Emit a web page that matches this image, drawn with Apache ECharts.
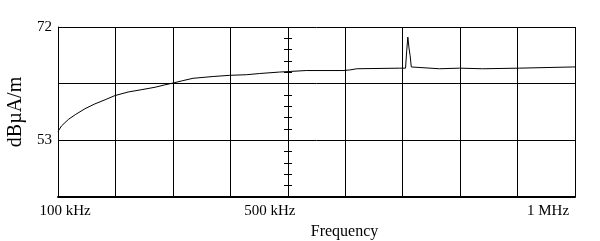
<!DOCTYPE html>
<html>
<head>
<meta charset="utf-8">
<script src="https://cdn.jsdelivr.net/npm/echarts@6/dist/echarts.min.js"></script>
<style>
html,body{margin:0;padding:0;background:#fff;}
#c{width:600px;height:241px;}
</style>
</head>
<body>
<div id="c"></div>
<script>
// Frequency in kHz
const freqKHz = [100, 106, 118, 130, 147, 164, 182, 199, 222, 246, 269, 286, 300, 317, 335, 370, 399, 428, 451, 486, 532, 596, 608, 620, 695, 705, 707, 709, 711, 713, 715, 764, 799, 839, 903, 996, 1000];
// Field strength in dBµA/m
const levelDb = [54.5, 55.4, 56.5, 57.3, 58.3, 59.1, 59.8, 60.5, 61.1, 61.5, 61.9, 62.3, 62.6, 63.0, 63.4, 63.7, 63.9, 64.0, 64.2, 64.45, 64.7, 64.7, 64.8, 65.0, 65.1, 65.1, 68.0, 70.3, 68.5, 67.2, 65.3, 65.0, 65.1, 65.0, 65.1, 65.3, 65.3];
const xTickLabels = {100: '100 kHz', 500: '500 kHz', 1000: '1 MHz'};
const yTickLabels = {72: '72', 53: '53'};

const data = freqKHz.map((f, i) => [f, levelDb[i]]);
const serif = '"Liberation Serif", "DejaVu Serif", serif';

const chart = echarts.init(document.getElementById('c'), null, {renderer: 'canvas'});
const yCommon = {type: 'value', min: 43.5, max: 72, interval: 9.5};
chart.setOption({
  backgroundColor: '#ffffff',
  animation: false,
  grid: {left: 58, right: 25, top: 27, bottom: 44, containLabel: false, outerBoundsMode: 'none'},
  xAxis: {
    type: 'value', min: 100, max: 1000, interval: 100,
    name: 'Frequency', nameLocation: 'middle', nameGap: 27,
    nameTextStyle: {fontFamily: serif, fontSize: 16, color: '#000', padding: [0, 0, 0, 56]},
    axisLine: {show: true, lineStyle: {color: '#000', width: 2}},
    axisTick: {show: false},
    axisLabel: {
      margin: 7, color: '#000', fontFamily: serif, fontSize: 15,
      formatter: v => {
        if (v === 100) return '{a|' + xTickLabels[v] + '}';
        if (v === 500) return '{b|' + xTickLabels[v] + '}';
        if (v === 1000) return '{c|' + xTickLabels[v] + '}';
        return '';
      },
      rich: {
        a: {fontFamily: serif, fontSize: 15, color: '#000', padding: [0, 0, 0, 14]},
        b: {fontFamily: serif, fontSize: 15, color: '#000', padding: [0, 36, 0, 0]},
        c: {fontFamily: serif, fontSize: 15, color: '#000', padding: [0, 54, 0, 0]}
      }
    },
    splitLine: {show: true, lineStyle: {color: '#000', width: 1}}
  },
  yAxis: [
    Object.assign({}, yCommon, {
      name: 'dBµA/m', nameLocation: 'middle', nameGap: 28, nameRotate: 90,
      nameTextStyle: {fontFamily: serif, fontSize: 20, color: '#000'},
      axisLine: {show: true, lineStyle: {color: '#000', width: 1}},
      axisTick: {show: false},
      axisLabel: {
        margin: 6, color: '#000', fontFamily: serif, fontSize: 15, padding: [4, 0, 0, 0],
        formatter: v => yTickLabels[Math.round(v)] && Math.abs(v - Math.round(v)) < 1e-6 ? yTickLabels[Math.round(v)] : ''
      },
      splitLine: {show: true, lineStyle: {color: '#000', width: 1}}
    }),
    Object.assign({}, yCommon, {
      position: 'left', offset: -230,
      axisLine: {show: false}, axisLabel: {show: false}, splitLine: {show: false},
      axisTick: {show: true, inside: true, length: 4, lineStyle: {color: '#000'}},
      minorTick: {show: true, splitNumber: 5, length: 4, lineStyle: {color: '#000'}}
    }),
    Object.assign({}, yCommon, {
      position: 'left', offset: -230,
      axisLine: {show: false}, axisLabel: {show: false}, splitLine: {show: false},
      axisTick: {show: true, inside: false, length: 4, lineStyle: {color: '#000'}},
      minorTick: {show: true, splitNumber: 5, length: 4, lineStyle: {color: '#000'}}
    })
  ],
  series: [{
    type: 'line', data: data, yAxisIndex: 0, showSymbol: false, symbol: 'none',
    lineStyle: {color: '#000', width: 1}
  }]
});
</script>
</body>
</html>
